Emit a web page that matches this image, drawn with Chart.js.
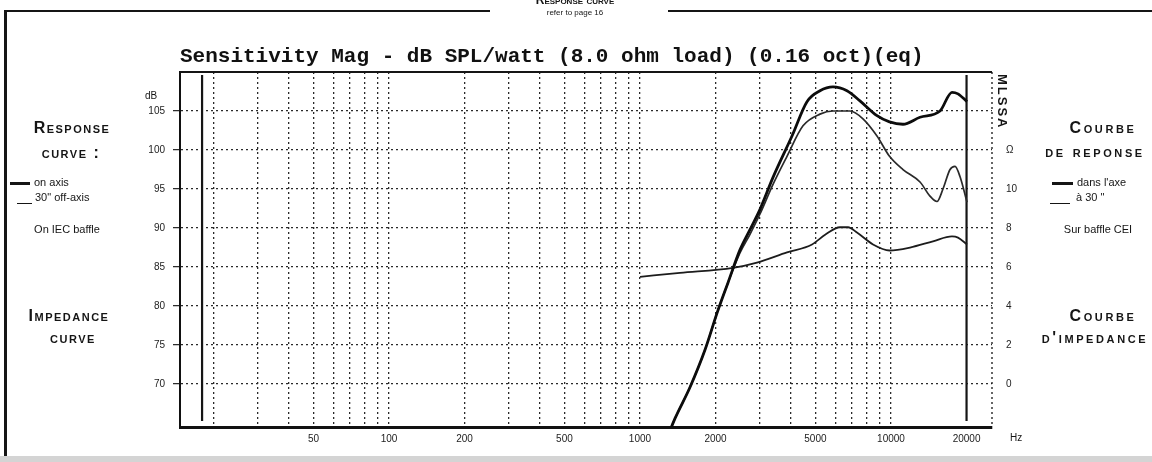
<!DOCTYPE html>
<html>
<head>
<meta charset="utf-8">
<script src="https://cdn.jsdelivr.net/npm/chart.js@4.4.1/dist/chart.umd.min.js"></script>
<style>
  html, body { margin: 0; padding: 0; background: #fff; }
  #page { position: relative; width: 1152px; height: 462px; overflow: hidden;
          font-family: "Liberation Sans", Arial, sans-serif; color: #151515; }
  #chart { position: absolute; left: 0; top: 0; }
  .t { position: absolute; white-space: nowrap; line-height: 1; }
  .c { width: 200px; text-align: center; }
  .hd { font-weight: bold; font-variant: small-caps; font-size: 16px; letter-spacing: 1.5px; }
  .wide { letter-spacing: 2.6px; }
  .sm { font-size: 11px; }
  .rule { position: absolute; background: #151515; }
</style>
</head>
<body>
<div id="page">
  <canvas id="chart" width="1152" height="462"></canvas>

  <!-- page frame -->
  <div class="rule" style="left:4px;top:10px;width:486px;height:2px"></div>
  <div class="rule" style="left:668px;top:10px;width:484px;height:2px"></div>
  <div class="rule" style="left:4px;top:10px;width:3px;height:452px"></div>
  <div class="rule" style="left:0;top:456px;width:1152px;height:6px;background:#d4d4d4"></div>
  <div class="t c" style="left:475px;top:-6px;font-weight:bold;font-variant:small-caps;font-size:12px">Response curve</div>
  <div class="t c" style="left:475px;top:9px;font-size:8px">refer to page 16</div>

  <!-- left notes -->
  <div class="t c hd" style="left:-28px;top:120px">Response</div>
  <div class="t c hd" style="left:-29px;top:145px">curve :</div>
  <div class="rule" style="left:10px;top:182px;width:20px;height:3px"></div>
  <div class="t sm" style="left:34px;top:177px">on axis</div>
  <div class="rule" style="left:17px;top:203px;width:15px;height:1px"></div>
  <div class="t sm" style="left:35px;top:192px">30" off-axis</div>
  <div class="t c sm" style="left:-33px;top:224px">On IEC baffle</div>
  <div class="t c hd" style="left:-31px;top:308px">Impedance</div>
  <div class="t c hd" style="left:-27px;top:330px">curve</div>

  <!-- right notes -->
  <div class="t c hd wide" style="left:1003px;top:120px">Courbe</div>
  <div class="t c hd wide" style="left:995px;top:144px">de reponse</div>
  <div class="rule" style="left:1052px;top:182px;width:21px;height:3px"></div>
  <div class="t sm" style="left:1077px;top:177px">dans l'axe</div>
  <div class="rule" style="left:1050px;top:203px;width:20px;height:1px"></div>
  <div class="t sm" style="left:1076px;top:192px">à 30 "</div>
  <div class="t c sm" style="left:998px;top:224px">Sur baffle CEI</div>
  <div class="t c hd wide" style="left:1003px;top:308px">Courbe</div>
  <div class="t c hd wide" style="left:995px;top:330px">d'impedance</div>

  <!-- axis units -->
  <div class="t" style="left:145px;top:91px;font-size:10px">dB</div>
  <div class="t" style="left:1010px;top:433px;font-size:10px">Hz</div>
  <div class="t" style="left:996px;top:74px;font-size:13px;font-weight:bold;writing-mode:vertical-rl;letter-spacing:2px">MLSSA</div>
</div>

<script>
// frequency axis
const freqGrid = [20, 30, 40, 50, 60, 70, 80, 90, 100, 200, 300, 400, 500, 600, 700, 800, 900,
                  1000, 2000, 3000, 4000, 5000, 6000, 7000, 8000, 9000, 10000];
const freqLabels = [50, 100, 200, 500, 1000, 2000, 5000, 10000, 20000];
const markerFreqs = [18, 20000];

// level / impedance axes
const dbTicks = [70, 75, 80, 85, 90, 95, 100, 105];
const ohmTicks = [0, 2, 4, 6, 8, 10, 12];

// on axis response
const onAxisFreq = [1300, 1379, 1582, 1816, 2027, 2242, 2502, 2743, 3007, 3388, 4033, 4627, 5213, 5873,
                    6677, 7522, 8795, 9864, 11164, 13050, 15675, 17500, 18490, 20090];
const onAxisDb = [63.6, 65.6, 69.6, 74.4, 79.1, 83.0, 87.2, 89.8, 92.4, 96.5, 101.8, 106.2, 107.6, 108.1,
                  107.6, 106.3, 104.4, 103.6, 103.3, 104.2, 105.0, 107.4, 107.2, 106.2];

// 30 deg off axis response
const offAxisFreq = [1300, 1379, 1582, 1816, 2027, 2242, 2502, 2743, 3007, 3388, 3852, 4461, 5213, 5873,
                     6865, 7734, 8795, 9864, 11164, 13050, 14300, 15250, 16110, 17190, 17990, 18830, 20090];
const offAxisDb = [63.6, 65.6, 69.6, 74.4, 79.1, 83.0, 86.8, 89.2, 91.8, 95.6, 99.2, 103.1, 104.6, 105.0,
                   105.0, 104.0, 101.8, 99.2, 97.5, 95.9, 94.1, 93.4, 95.0, 97.5, 97.9, 96.6, 93.3];

// impedance (ohm)
const impFreq = [1000, 1443, 2347, 2925, 3852, 4846, 5483, 6263, 6742, 7318, 8481, 9864, 11904,
                 14700, 17500, 18490, 20090];
const impOhm = [5.5, 5.7, 5.96, 6.23, 6.75, 7.16, 7.67, 8.04, 8.04, 7.77, 7.16, 6.85, 7.0,
                7.32, 7.57, 7.51, 7.16];

const xTickVals = [...new Set([...freqGrid, ...freqLabels])].sort((a, b) => a - b);
const pts = (xs, ys) => xs.map((v, i) => ({ x: v, y: ys[i] }));
const FONT = 'Liberation Sans, Arial, sans-serif';

// top rule, dotted right edge and the two heavy verticals
const framePlugin = {
  id: 'frame',
  beforeDatasetsDraw(chart) {
    const { ctx, chartArea: a, scales: { x } } = chart;
    ctx.save();
    ctx.strokeStyle = '#151515';
    ctx.lineWidth = 2;
    ctx.beginPath();
    ctx.moveTo(a.left, a.top);
    ctx.lineTo(a.right, a.top);
    ctx.stroke();

    ctx.lineWidth = 1.3;
    ctx.setLineDash([2, 3]);
    ctx.beginPath();
    ctx.moveTo(a.right, a.top);
    ctx.lineTo(a.right, a.bottom);
    ctx.stroke();
    ctx.setLineDash([]);

    ctx.lineWidth = 2.2;
    markerFreqs.forEach(f => {
      const px = x.getPixelForValue(f);
      ctx.beginPath();
      ctx.moveTo(px, a.top + 3);
      ctx.lineTo(px, a.bottom - 6);
      ctx.stroke();
    });
    ctx.restore();
  }
};

new Chart(document.getElementById('chart'), {
  type: 'line',
  data: {
    datasets: [
      {
        label: 'on axis',
        data: pts(onAxisFreq, onAxisDb),
        borderColor: '#0c0c0c',
        borderWidth: 2.8,
        yAxisID: 'y'
      },
      {
        label: '30 off-axis',
        data: pts(offAxisFreq, offAxisDb),
        borderColor: '#2a2a2a',
        borderWidth: 1.7,
        yAxisID: 'y'
      },
      {
        label: 'impedance',
        data: pts(impFreq, impOhm),
        borderColor: '#1c1c1c',
        borderWidth: 1.8,
        yAxisID: 'yR'
      }
    ]
  },
  options: {
    responsive: false,
    animation: false,
    layout: { padding: { left: 140, right: 0, top: 0, bottom: 0 } },
    elements: {
      point: { radius: 0 },
      line: { cubicInterpolationMode: 'monotone' }
    },
    plugins: {
      legend: { display: false },
      tooltip: { enabled: false },
      title: {
        display: true,
        text: 'Sensitivity Mag - dB SPL/watt (8.0 ohm load) (0.16 oct)(eq)',
        align: 'start',
        fullSize: false,
        color: '#111',
        font: { family: 'Liberation Mono, DejaVu Sans Mono, monospace', size: 21, weight: 'bold', lineHeight: 1.2 },
        padding: { top: 44, bottom: 2.8 }
      }
    },
    scales: {
      x: {
        type: 'logarithmic',
        min: 14.7,
        max: 25260,
        afterBuildTicks: s => { s.ticks = xTickVals.map(v => ({ value: v })); },
        afterFit: s => { s.height = 35; },
        grid: {
          color: ctx => (ctx.tick && ctx.tick.value === 20000) ? 'rgba(0,0,0,0)' : '#2a2a2a',
          lineWidth: 1.3,
          drawTicks: false
        },
        border: { display: true, color: '#111', width: 3, dash: [2, 3] },
        ticks: {
          autoSkip: false,
          maxRotation: 0,
          padding: 6,
          color: '#222',
          font: { family: FONT, size: 10 },
          callback: v => freqLabels.includes(v) ? String(v) : ''
        }
      },
      y: {
        position: 'left',
        min: 64.5,
        max: 110,
        afterBuildTicks: s => { s.ticks = dbTicks.map(v => ({ value: v })); },
        afterFit: s => { s.width = 40; },
        grid: { color: '#2a2a2a', lineWidth: 1.3, tickLength: 7, tickColor: '#222', tickWidth: 1.2 },
        border: { display: true, color: '#111', width: 2, dash: [2, 3] },
        ticks: { padding: 8, color: '#222', font: { family: FONT, size: 10 } }
      },
      yR: {
        position: 'right',
        min: -2.2,
        max: 16,
        afterBuildTicks: s => { s.ticks = ohmTicks.map(v => ({ value: v })); },
        afterFit: s => { s.width = 160; },
        grid: { display: false, drawTicks: false },
        border: { display: false },
        ticks: {
          padding: 14,
          color: '#222',
          font: { family: FONT, size: 10 },
          callback: v => v === 12 ? 'Ω' : String(v)
        }
      }
    }
  },
  plugins: [framePlugin]
});
</script>
</body>
</html>
